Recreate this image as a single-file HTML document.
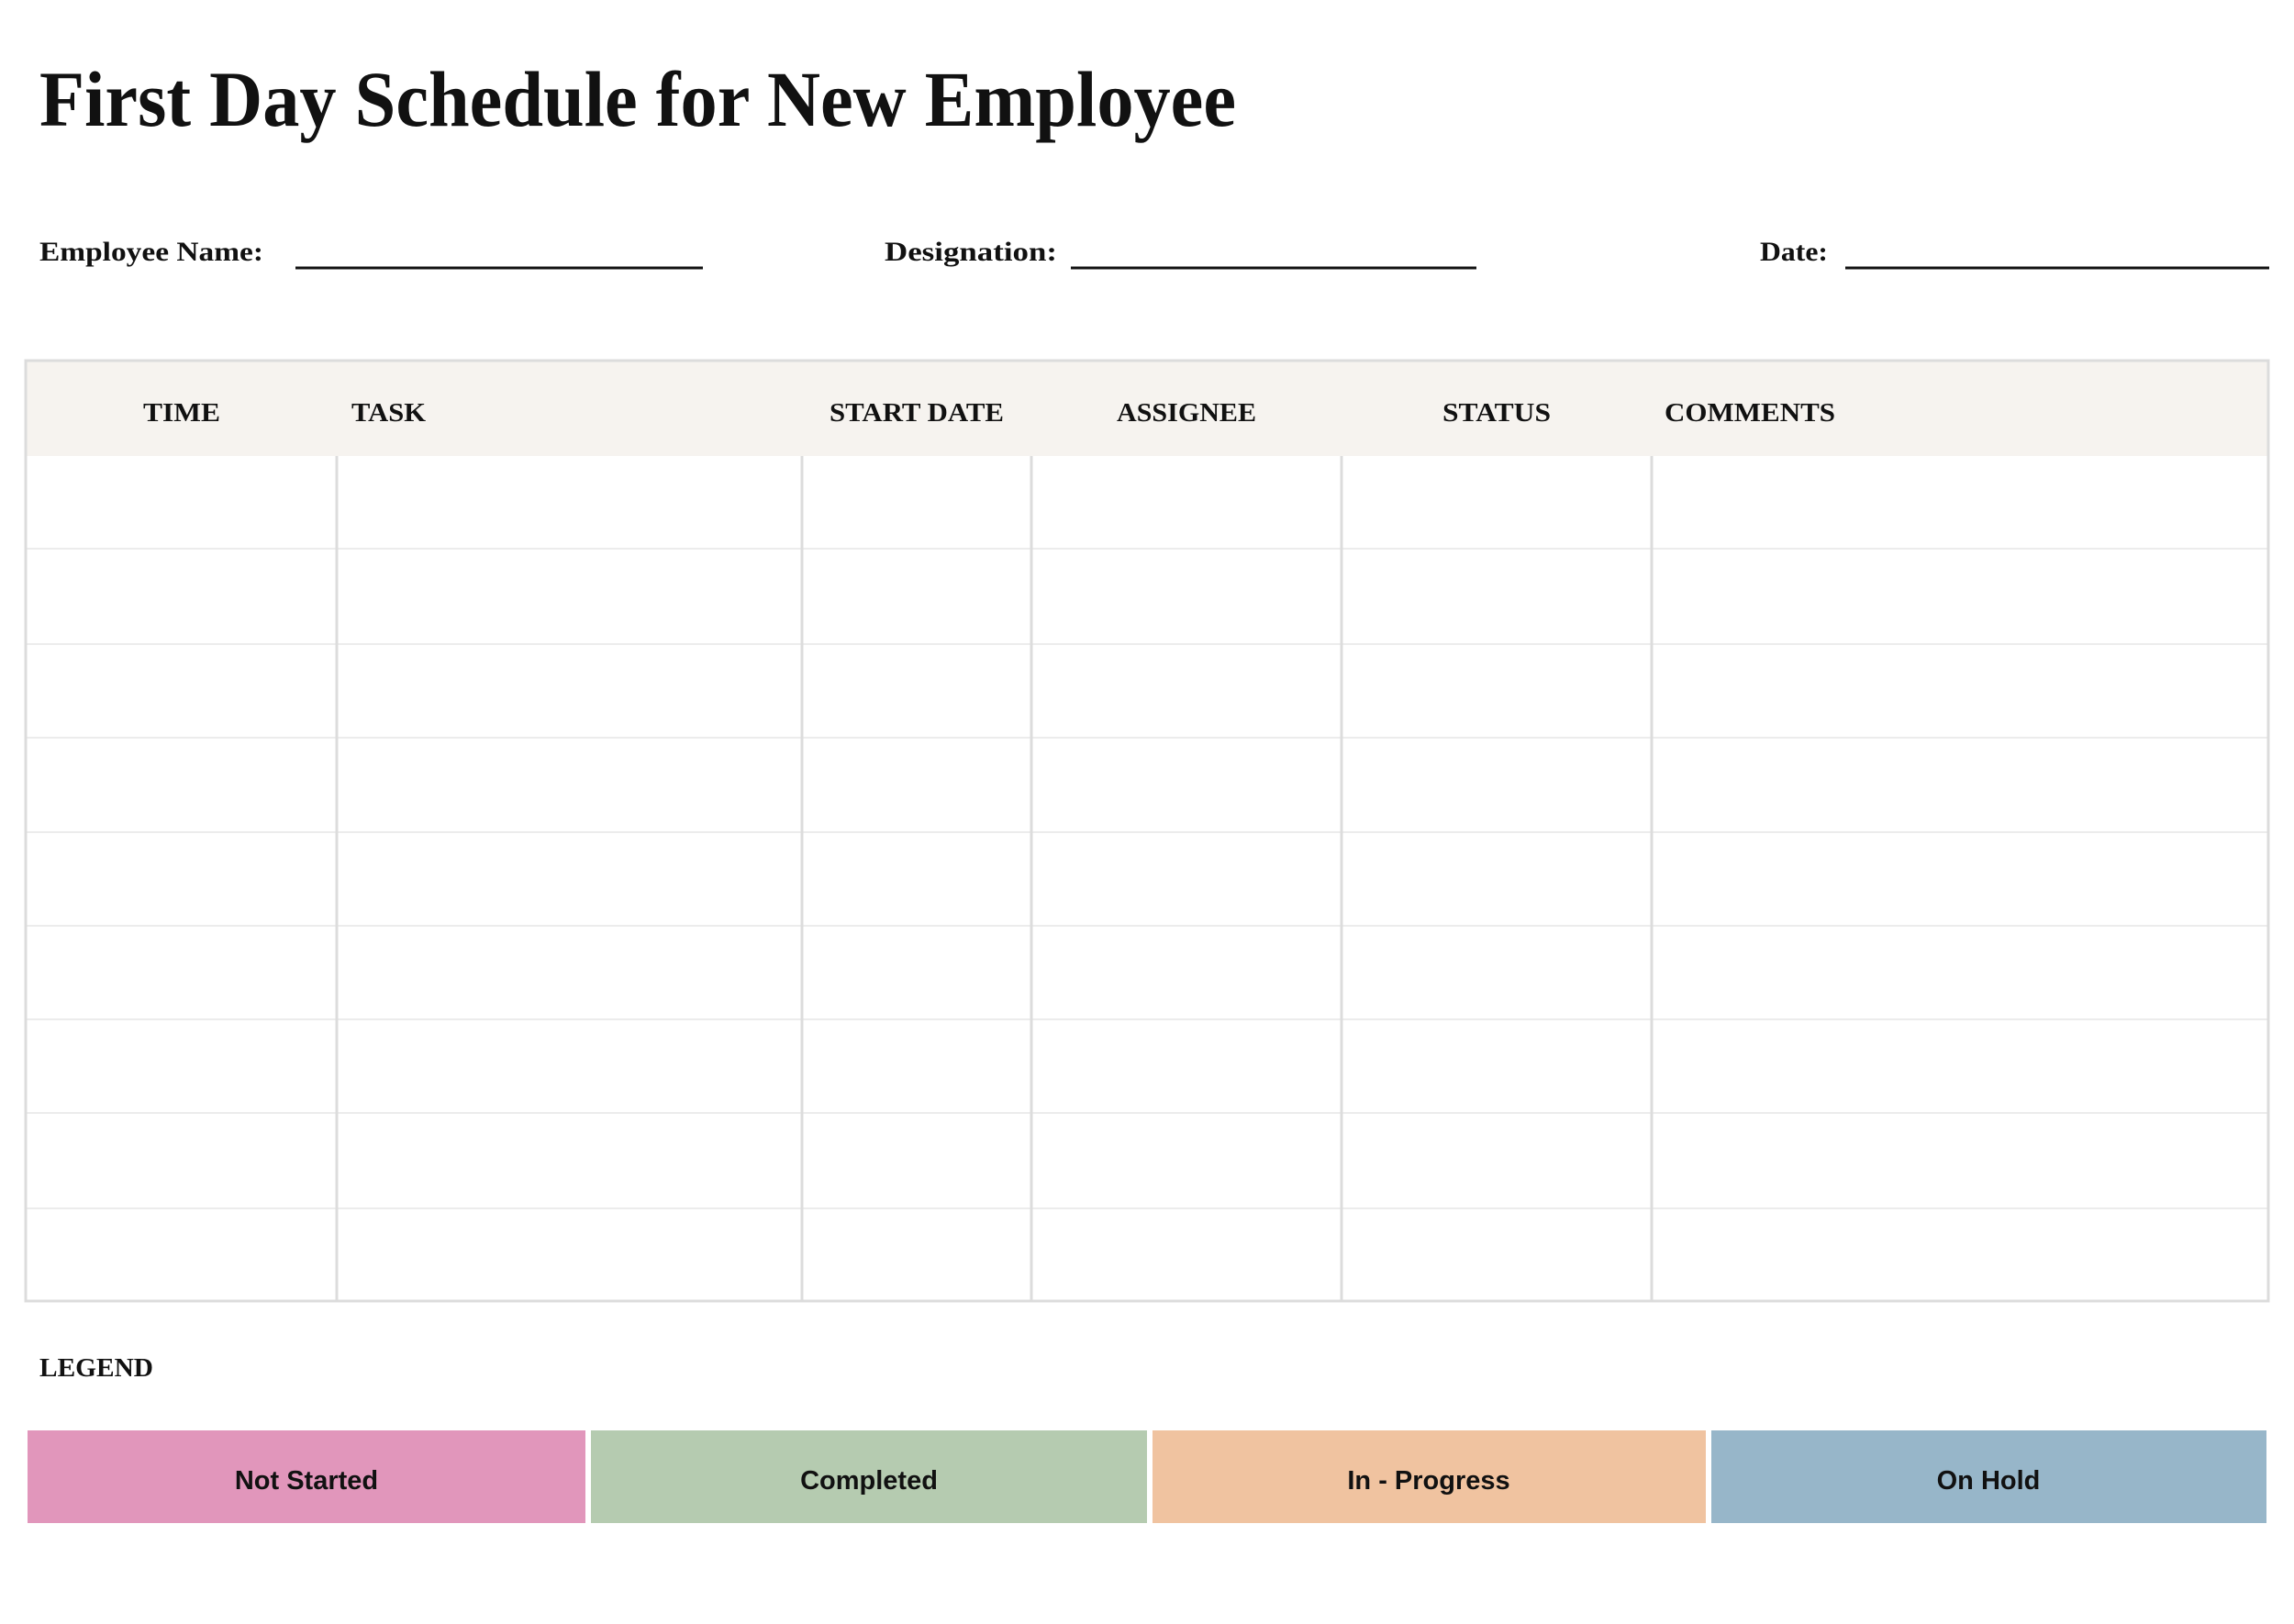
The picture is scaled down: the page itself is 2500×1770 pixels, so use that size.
<!DOCTYPE html>
<html><head><meta charset="utf-8"><style>
html,body{margin:0;padding:0;background:#fff;}
svg{display:block;}
.s{font-family:"Liberation Serif",serif;font-weight:bold;fill:#111;}
.a{font-family:"Liberation Sans",sans-serif;font-weight:bold;fill:#111;}
</style></head><body>
<svg width="2500" height="1770" viewBox="0 0 2500 1770" xmlns="http://www.w3.org/2000/svg">
<rect width="2500" height="1770" fill="#fff"/>
<text class="s" x="43" y="137" font-size="86" textLength="1304" lengthAdjust="spacingAndGlyphs">First Day Schedule for New Employee</text>
<text class="s" x="43" y="284" font-size="30" textLength="244" lengthAdjust="spacingAndGlyphs">Employee Name:</text>
<line x1="322" y1="292" x2="766" y2="292" stroke="#111" stroke-width="3"/>
<text class="s" x="964" y="284" font-size="30" textLength="188" lengthAdjust="spacingAndGlyphs">Designation:</text>
<line x1="1167" y1="292" x2="1609" y2="292" stroke="#111" stroke-width="3"/>
<text class="s" x="1918" y="284" font-size="30" textLength="74" lengthAdjust="spacingAndGlyphs">Date:</text>
<line x1="2011" y1="292" x2="2473" y2="292" stroke="#111" stroke-width="3"/>
<rect x="28" y="393" width="2444" height="104" fill="#f6f3ef"/>
<g stroke="#ececec" stroke-width="2">
<line x1="28" y1="598" x2="2472" y2="598"/><line x1="28" y1="702" x2="2472" y2="702"/>
<line x1="28" y1="804" x2="2472" y2="804"/><line x1="28" y1="907" x2="2472" y2="907"/>
<line x1="28" y1="1009" x2="2472" y2="1009"/><line x1="28" y1="1111" x2="2472" y2="1111"/>
<line x1="28" y1="1213" x2="2472" y2="1213"/><line x1="28" y1="1317" x2="2472" y2="1317"/>
</g>
<g stroke="#dcdcdc" stroke-width="3">
<line x1="367" y1="497" x2="367" y2="1418"/><line x1="874" y1="497" x2="874" y2="1418"/>
<line x1="1124" y1="497" x2="1124" y2="1418"/><line x1="1462" y1="497" x2="1462" y2="1418"/>
<line x1="1800" y1="497" x2="1800" y2="1418"/>
</g>
<rect x="28" y="393" width="2444" height="1025" fill="none" stroke="#dcdcdc" stroke-width="3"/>
<g class="s" font-size="29">
<text x="198" y="459" text-anchor="middle" textLength="84" lengthAdjust="spacingAndGlyphs">TIME</text>
<text x="383" y="459" textLength="81" lengthAdjust="spacingAndGlyphs">TASK</text>
<text x="999" y="459" text-anchor="middle" textLength="190" lengthAdjust="spacingAndGlyphs">START DATE</text>
<text x="1293" y="459" text-anchor="middle" textLength="152" lengthAdjust="spacingAndGlyphs">ASSIGNEE</text>
<text x="1631" y="459" text-anchor="middle" textLength="118" lengthAdjust="spacingAndGlyphs">STATUS</text>
<text x="1814" y="459" textLength="186" lengthAdjust="spacingAndGlyphs">COMMENTS</text>
</g>
<text class="s" x="43" y="1500" font-size="29" textLength="124" lengthAdjust="spacingAndGlyphs">LEGEND</text>
<rect x="30" y="1559" width="608" height="101" fill="#e196bb"/>
<rect x="644" y="1559" width="606" height="101" fill="#b5cbb0"/>
<rect x="1256" y="1559" width="603" height="101" fill="#f0c3a0"/>
<rect x="1865" y="1559" width="605" height="101" fill="#97b6c9"/>
<g class="a" font-size="29" text-anchor="middle">
<text x="334" y="1623">Not Started</text>
<text x="947" y="1623">Completed</text>
<text x="1557" y="1623">In - Progress</text>
<text x="2167" y="1623">On Hold</text>
</g>
</svg>
</body></html>
